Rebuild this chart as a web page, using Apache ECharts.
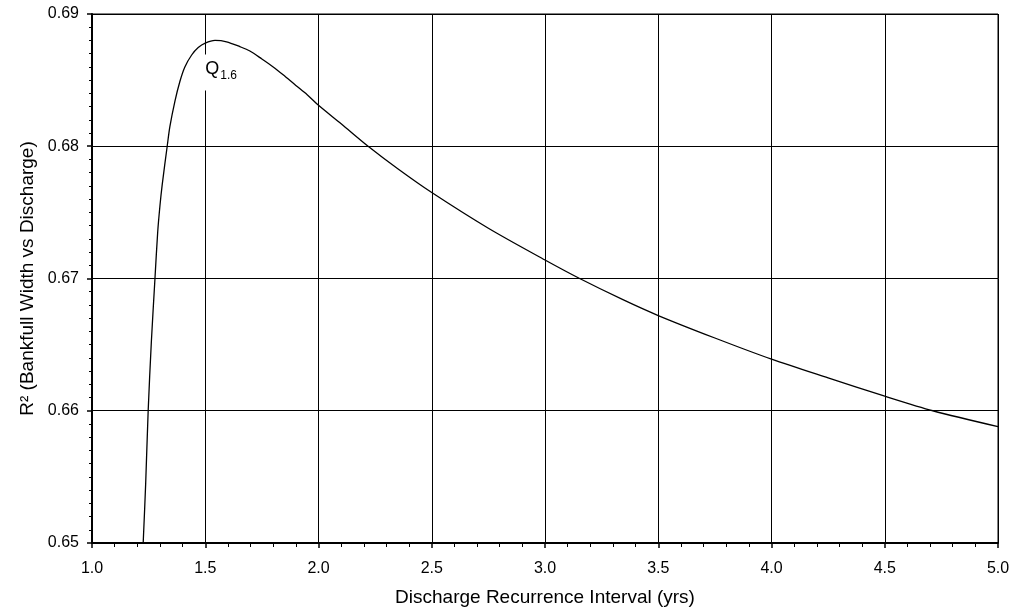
<!DOCTYPE html>
<html>
<head>
<meta charset="utf-8">
<script src="https://cdn.jsdelivr.net/npm/echarts@6/dist/echarts.min.js"></script>
<style>html,body{margin:0;padding:0;background:#fff}#c{width:1015px;height:612px}</style>
</head>
<body>
<div id="c"></div>
<script>
const recurrenceInterval = [1.226, 1.237, 1.248, 1.262, 1.278, 1.290, 1.300, 1.310, 1.332, 1.344, 1.366, 1.388, 1.410, 1.440, 1.469, 1.500, 1.543, 1.594, 1.653, 1.697, 1.750, 1.800, 1.844, 1.900, 1.950, 2.000, 2.100, 2.219, 2.350, 2.500, 2.750, 3.000, 3.153, 3.344, 3.500, 3.750, 4.000, 4.250, 4.500, 4.712, 5.000];
const rSquared = [0.6500, 0.6545, 0.6600, 0.6652, 0.6700, 0.6735, 0.6755, 0.6771, 0.6800, 0.6815, 0.6834, 0.6849, 0.6860, 0.6869, 0.68746, 0.6878, 0.6880, 0.6879, 0.68753, 0.6872, 0.6866, 0.6860, 0.6854, 0.6846, 0.6839, 0.6831, 0.6817, 0.6800, 0.6783, 0.6765, 0.6738, 0.6714, 0.6700, 0.6684, 0.6672, 0.6655, 0.6639, 0.66248, 0.6611, 0.6600, 0.6588];
const xTicks = ['1.0','1.5','2.0','2.5','3.0','3.5','4.0','4.5','5.0'];
const yTicks = ['0.65','0.66','0.67','0.68','0.69'];
const annotation = {x: 1.5, y: 0.6880, main: 'Q', sub: '1.6'};

const FONT = '"Liberation Sans", Arial, sans-serif';
const chart = echarts.init(document.getElementById('c'), null, {renderer: 'canvas'});
const data = recurrenceInterval.map((x, i) => [x, rSquared[i]]);

chart.setOption({
  animation: false,
  backgroundColor: '#fff',
  grid: {left: 92, right: 17, top: 14, bottom: 69, show: true, borderColor: '#000', borderWidth: 1, containLabel: false},
  xAxis: {
    type: 'value', min: 1, max: 5, interval: 0.5,
    name: 'Discharge Recurrence Interval (yrs)', nameLocation: 'middle', nameGap: 45,
    nameTextStyle: {fontFamily: FONT, fontSize: 19, color: '#000'},
    axisLine: {show: true, onZero: false, lineStyle: {color: '#000', width: 2}},
    axisTick: {show: true, inside: false, length: 5, lineStyle: {color: '#000', width: 1.5}},
    minorTick: {show: true, splitNumber: 5, length: 4, lineStyle: {color: '#000', width: 1}},
    splitLine: {show: true, lineStyle: {color: '#000', width: 1}},
    axisLabel: {margin: 18, fontFamily: FONT, fontSize: 16, color: '#000',
      formatter: v => xTicks[Math.round((v - 1) / 0.5)] || ''}
  },
  yAxis: {
    type: 'value', min: 0.65, max: 0.69, interval: 0.01,
    name: 'R² (Bankfull Width vs Discharge)', nameLocation: 'middle', nameGap: 54,
    nameTextStyle: {fontFamily: FONT, fontSize: 19, color: '#000'},
    axisLine: {show: true, onZero: false, lineStyle: {color: '#000', width: 2}},
    axisTick: {show: true, inside: false, length: 5, lineStyle: {color: '#000', width: 1.5}},
    minorTick: {show: true, splitNumber: 10, length: 3, lineStyle: {color: '#000', width: 1}},
    splitLine: {show: true, lineStyle: {color: '#000', width: 1}},
    axisLabel: {margin: 13, fontFamily: FONT, fontSize: 16, color: '#000',
      formatter: v => yTicks[Math.round((v - 0.65) / 0.01)] || ''}
  },
  series: [{
    type: 'line', data: data, smooth: 0.3, showSymbol: false, symbol: 'none',
    lineStyle: {color: '#000', width: 1.3}, clip: true, z: 2
  }]
});

const p = chart.convertToPixel('grid', [annotation.x, annotation.y]);
chart.setOption({
  graphic: {
    elements: [
      {type: 'rect', z: 100, shape: {x: p[0] - 5, y: p[1] + 14, width: 40, height: 36}, style: {fill: '#fff', stroke: null}},
      {type: 'text', z: 101, x: p[0], y: p[1] + 28.5, style: {text: annotation.main, fontFamily: FONT, fontSize: 18, fill: '#000', verticalAlign: 'middle', align: 'left'}},
      {type: 'text', z: 101, x: p[0] + 15, y: p[1] + 35, style: {text: annotation.sub, fontFamily: FONT, fontSize: 12, fill: '#000', verticalAlign: 'middle', align: 'left'}}
    ]
  }
});
</script>
</body>
</html>
